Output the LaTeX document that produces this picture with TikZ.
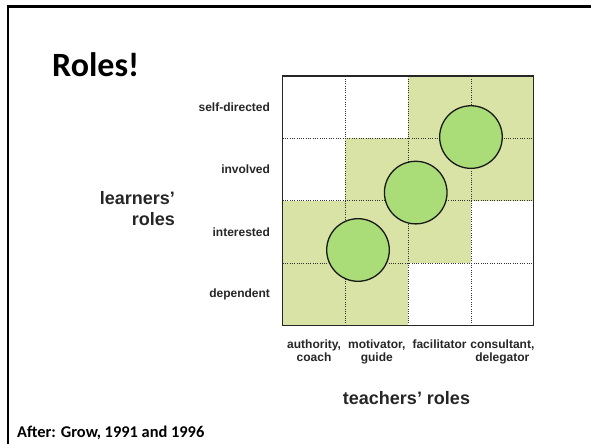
\documentclass[tikz,border=0pt]{standalone}
\usepackage{fontspec}
\setmainfont{Liberation Sans}
\newfontfamily\calibri{Carlito}
\usetikzlibrary{positioning}
\definecolor{cellgreen}{RGB}{217,227,165}
\definecolor{rolegreen}{RGB}{170,220,120}
\definecolor{labelgray}{RGB}{38,38,38}

\begin{document}
\begin{tikzpicture}[x=1pt, y=-1pt,
  rowlab/.style={font=\bfseries\fontsize{12}{13}\selectfont, text=labelgray, anchor=east, inner sep=0pt},
  collab/.style={font=\bfseries\fontsize{12}{13}\selectfont, text=labelgray, align=center, anchor=north, inner sep=0pt},
  axislab/.style={font=\bfseries\fontsize{18}{21.7}\selectfont, text=labelgray, inner sep=0pt},
  gridline/.style={black!80, line width=0.8pt, dash pattern=on 0.8pt off 1.5pt},
  role/.style={draw=black!90, line width=1.3pt, fill=rolegreen}]
\useasboundingbox (0,0) rectangle (591,444);

% 幻灯片边框
\draw[line width=2.5pt] (8,444) -- (8,6.5) -- (591,6.5);

% 标题
\node[font=\calibri\bfseries\fontsize{34}{40}\selectfont, anchor=base west, inner sep=0pt]
  (title) at (52,77) {Roles!};

% 网格(4 x 4)
\begin{scope}[shift={(282.7pt,-325.5pt)}, x=62.75pt, y=62.4pt]
  \foreach \c/\r in {0/0,1/0,0/1,1/1,2/1,1/2,2/2,3/2,2/3,3/3}
    \fill[cellgreen] (\c,\r) rectangle ++(1,1);
  \foreach \i in {1,2,3} {
    \draw[gridline] (\i,0) -- (\i,4);
    \draw[gridline] (0,\i) -- (4,\i);
  }
  \draw[line width=1.4pt, black!85] (0,0) rectangle (4,4);

  % 角色圆
  \draw[role] (1.2,1.21) circle (31.3pt);
  \draw[role] (2.12,2.13) circle (31.3pt);
  \draw[role] (3.0,3.02) circle (31.3pt);

  % 学习者阶段
  \node[rowlab] (dep) at (-0.2,0.5) {dependent};
  \node[rowlab] (int) at (-0.2,1.5) {interested};
  \node[rowlab] (inv) at (-0.2,2.5) {involved};
  \node[rowlab] (sdir) at (-0.2,3.5) {self-directed};

  % 教师角色
  \node[collab] (auth) at (0.5,-0.224) {authority,\\coach};
  \node[collab] (motiv) at (1.5,-0.224) {motivator,\\guide};
  \node[collab] (facil) at (2.5,-0.224) {facilitator};
  \node[collab] (cons) at (3.5,-0.224) {consultant,\\delegator};
\end{scope}

% 轴标签
\node[axislab, align=right, anchor=north east] (learners) at (175,191) {learners’\\roles};
\node[axislab, anchor=base] (teachers) at (406.5,404) {teachers’ roles};

% 出处
\node[font=\calibri\bfseries\fontsize{16.4}{19}\selectfont, anchor=base west, inner sep=0pt]
  (source) at (17,437.5) {After: Grow, 1991 and 1996};
\end{tikzpicture}
\end{document}
